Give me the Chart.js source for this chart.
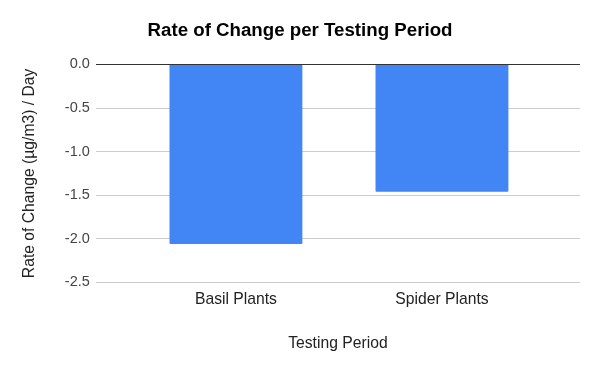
<!DOCTYPE html>
<html>
<head>
<meta charset="utf-8">
<script src="https://cdn.jsdelivr.net/npm/chart.js@4"></script>
<style>
  html, body { margin: 0; padding: 0; background: #fff; }
  #wrap { width: 600px; height: 371px; }
</style>
</head>
<body>
<div id="wrap"><canvas id="rateChart" width="600" height="371"></canvas></div>
<script>
// Chart data
const categories = ['Basil Plants', 'Spider Plants'];
const rateValues = [-2.06, -1.46];
const yTicks = [0.0, -0.5, -1.0, -1.5, -2.0, -2.5];

const FONT = "'Liberation Sans', Arial, sans-serif";

// Build the bar chart (categories sit at x = 1, 2 on a linear axis)
const ctx = document.getElementById('rateChart').getContext('2d');
const rateChart = new Chart(ctx, {
  type: 'bar',
  data: {
    datasets: [{
      label: 'Rate of Change',
      data: rateValues.map((v, i) => ({ x: i + 1, y: v })),
      backgroundColor: '#4285f4',
      borderWidth: 0,
      borderRadius: 1,
      categoryPercentage: 1,
      barPercentage: 0.645
    }]
  },
  options: {
    responsive: false,
    animation: false,
    layout: { padding: { top: 8, right: 20, bottom: 18, left: 20 } },
    plugins: {
      legend: { display: false },
      tooltip: { enabled: false },
      title: {
        display: true,
        text: 'Rate of Change per Testing Period',
        color: '#000',
        font: { family: FONT, size: 18.7, weight: 'bold' },
        padding: { top: 12, bottom: 22 }
      }
    },
    scales: {
      x: {
        type: 'linear',
        offset: false,
        min: 1 - 0.68,
        max: categories.length + 0.67,
        afterBuildTicks: scale => {
          scale.ticks = categories.map((c, i) => ({ value: i + 1 }));
        },
        grid: { display: false, drawTicks: false },
        border: { display: false },
        ticks: {
          autoSkip: false,
          maxRotation: 0,
          padding: 8,
          color: '#222',
          font: { family: FONT, size: 15.7 },
          callback: value => categories[value - 1] || ''
        },
        title: {
          display: true,
          text: 'Testing Period',
          color: '#222',
          font: { family: FONT, size: 15.7 },
          padding: { top: 17, bottom: 0 }
        }
      },
      y: {
        min: Math.min(...yTicks),
        max: Math.max(...yTicks),
        afterBuildTicks: scale => {
          scale.ticks = yTicks.map(v => ({ value: v }));
        },
        grid: {
          drawTicks: false,
          color: c => (c.tick && c.tick.value === 0 ? '#333' : '#ccc'),
          lineWidth: 1
        },
        border: { display: false },
        ticks: {
          padding: 6,
          color: '#444',
          font: { family: FONT, size: 14.5 },
          callback: value => value.toFixed(1)
        },
        title: {
          display: true,
          text: 'Rate of Change (µg/m3) / Day',
          color: '#222',
          font: { family: FONT, size: 15.7 },
          padding: { top: 0, bottom: 20 }
        }
      }
    }
  }
});
</script>
</body>
</html>
